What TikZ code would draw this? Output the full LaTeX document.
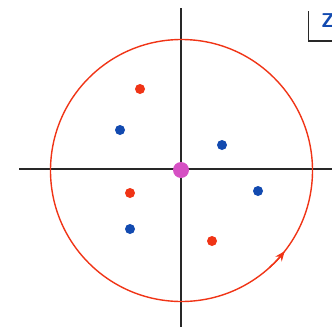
\documentclass[tikz,border=0pt]{standalone}
\usetikzlibrary{arrows.meta}
\definecolor{cred}{RGB}{240,52,22}
\definecolor{cblue}{RGB}{18,74,176}
\definecolor{cmag}{RGB}{214,80,196}
\definecolor{caxis}{RGB}{40,40,40}
\begin{document}
\begin{tikzpicture}[x=1pt,y=-1pt,
  axis/.style={draw=caxis,line width=1.8pt},
  reddot/.style={circle,fill=cred,inner sep=0pt,minimum size=10pt},
  bluedot/.style={circle,fill=cblue,inner sep=0pt,minimum size=10pt},
  origin/.style={circle,fill=cmag,inner sep=0pt,minimum size=16pt},
  contour/.style={draw=cred,line width=1.4pt}]
\useasboundingbox (0,0) rectangle (332,327);
\clip (0,0) rectangle (332,327);
\coordinate (top) at (181,8);
\coordinate (bot) at (181,327);
\coordinate (left) at (19,169);
\coordinate (right) at (332,169);
\coordinate (c) at (181.5,170.5);
\draw[axis] (top) -- (bot);
\draw[axis] (left) -- (right);
\draw[contour] (c) circle[radius=131];
\draw[contour,-{Stealth[length=10pt,width=8pt]}] (c) ++(48:131) arc[start angle=48,end angle=38,radius=131];
\node[origin] (o) at (181,170) {};
\node[reddot] (r1) at (140,89) {};
\node[bluedot] (b1) at (120,130) {};
\node[bluedot] (b2) at (222,145) {};
\node[reddot] (r2) at (130,193) {};
\node[bluedot] (b3) at (258,191) {};
\node[bluedot] (b4) at (130,229) {};
\node[reddot] (r3) at (212,241) {};
\coordinate (bx1) at (308.5,11);
\coordinate (bx2) at (308.5,41);
\coordinate (bx3) at (340,41);
\draw[draw=caxis,line width=1.3pt] (bx1) -- (bx2) -- (bx3);
\node[text=cblue,font=\sffamily\bfseries\fontsize{20}{20}\selectfont,anchor=west,inner sep=0pt] (zl) at (321,21) {Z};
\end{tikzpicture}
\end{document}
